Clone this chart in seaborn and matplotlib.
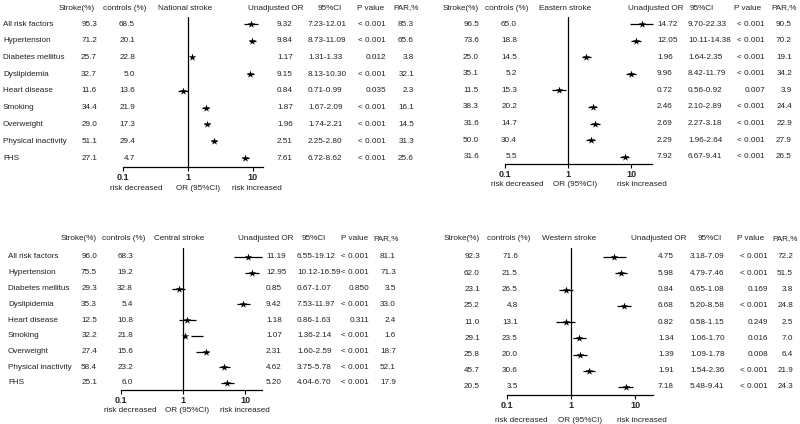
import numpy as np
import pandas as pd
import matplotlib
matplotlib.use('Agg')
import matplotlib.pyplot as plt
import matplotlib.transforms as mtransforms
import seaborn as sns

# risk factors (rows)
factors = ['All risk factors', 'Hypertension', 'Diabetes mellitus', 'Dyslipidemia',
           'Heart disease', 'Smoking', 'Overweight', 'Physical inactivity', 'FHS']

# National stroke
nat_stroke = ['95.3', '71.2', '25.7', '32.7', '11.6', '34.4', '29.0', '51.1', '27.1']
nat_ctrl = ['68.5', '20.1', '22.8', '5.0', '13.6', '21.9', '17.3', '29.4', '4.7']
nat_or = [9.32, 9.84, 1.17, 9.15, 0.84, 1.87, 1.96, 2.51, 7.61]
nat_lo = [7.23, 8.73, 1.31, 8.13, 0.71, 1.67, 1.74, 2.25, 6.72]
nat_hi = [12.01, 11.09, 1.33, 10.30, 0.99, 2.09, 2.21, 2.80, 8.62]
nat_p = ['< 0.001', '< 0.001', '0.012', '< 0.001', '0.035', '< 0.001', '< 0.001', '< 0.001', '< 0.001']
nat_par = ['85.3', '65.6', '3.8', '32.1', '2.3', '16.1', '14.5', '31.3', '25.6']

# Eastern stroke
eas_stroke = ['96.5', '73.6', '25.0', '35.1', '11.5', '38.3', '31.6', '50.0', '31.6']
eas_ctrl = ['65.0', '18.8', '14.5', '5.2', '15.3', '20.2', '14.7', '30.4', '5.5']
eas_or = [14.72, 12.05, 1.96, 9.96, 0.72, 2.46, 2.69, 2.29, 7.92]
eas_lo = [9.70, 10.11, 1.64, 8.42, 0.56, 2.10, 2.27, 1.96, 6.67]
eas_hi = [22.33, 14.38, 2.35, 11.79, 0.92, 2.89, 3.18, 2.64, 9.41]
eas_p = ['< 0.001', '< 0.001', '< 0.001', '< 0.001', '0.007', '< 0.001', '< 0.001', '< 0.001', '< 0.001']
eas_par = ['90.5', '70.2', '19.1', '34.2', '3.9', '24.4', '22.9', '27.9', '26.5']

# Central stroke
cen_stroke = ['96.0', '75.5', '29.3', '35.3', '12.5', '32.2', '27.4', '58.4', '25.1']
cen_ctrl = ['68.3', '19.2', '32.8', '5.4', '10.8', '21.8', '15.6', '23.2', '6.0']
cen_or = [11.19, 12.95, 0.85, 9.42, 1.18, 1.07, 2.31, 4.62, 5.20]
cen_lo = [6.55, 10.12, 0.67, 7.53, 0.86, 1.36, 1.60, 3.75, 4.04]
cen_hi = [19.12, 16.59, 1.07, 11.97, 1.63, 2.14, 2.59, 5.78, 6.70]
cen_p = ['< 0.001', '< 0.001', '0.850', '< 0.001', '0.311', '< 0.001', '< 0.001', '< 0.001', '< 0.001']
cen_par = ['81.1', '71.3', '3.5', '33.0', '2.4', '1.6', '18.7', '52.1', '17.9']

# Western stroke
wes_stroke = ['92.3', '62.0', '23.1', '25.2', '11.0', '29.1', '25.8', '45.7', '20.5']
wes_ctrl = ['71.6', '21.5', '26.5', '4.8', '13.1', '23.5', '20.0', '30.6', '3.5']
wes_or = [4.75, 5.98, 0.84, 6.68, 0.82, 1.34, 1.39, 1.91, 7.18]
wes_lo = [3.18, 4.79, 0.65, 5.20, 0.58, 1.06, 1.09, 1.54, 5.48]
wes_hi = [7.09, 7.46, 1.08, 8.58, 1.15, 1.70, 1.78, 2.36, 9.41]
wes_p = ['< 0.001', '< 0.001', '0.169', '< 0.001', '0.249', '0.016', '0.008', '< 0.001', '< 0.001']
wes_par = ['72.2', '51.5', '3.8', '24.8', '2.5', '7.0', '6.4', '21.9', '24.3']

sns.set_style('white')
plt.rcParams['font.family'] = ['Liberation Sans', 'DejaVu Sans']
FS = 5.9
TC = '#222222'
W, H = 800, 424

fig = plt.figure(figsize=(8, 4.24), dpi=100)


def fx(px):
    return px / W


def fy(py):
    return 1 - py / H


def draw_panel(title, stroke, ctrl, orv, lo, hi, pv, par, lay, labels=True):
    '''Draw one forest panel; lay holds pixel positions for the layout.'''
    l, r, t, b = lay['box']
    ax = fig.add_axes([fx(l), fy(b), fx(r - l), (b - t) / H])
    y0, dy = lay['rows']
    n = len(factors)
    rows = np.arange(n)
    ax.set_ylim((b - y0) / dy, (t - y0) / dy)
    ax.set_xscale('log')
    ax.set_xlim(0.1, lay['xmax'])

    ax.hlines(rows, lo, hi, color='black', lw=0.9, clip_on=False)
    df = pd.DataFrame({'or': orv, 'row': rows})
    sns.scatterplot(data=df, x='or', y='row', marker='*', s=32, color='black',
                    linewidth=0, ax=ax, legend=False, zorder=3, clip_on=False)
    ax.axvline(1, color='black', lw=0.9)

    for s in ['top', 'right', 'left']:
        ax.spines[s].set_visible(False)
    ax.spines['bottom'].set_color('black')
    ax.spines['bottom'].set_linewidth(0.9)
    ax.set_xticks([0.1, 1, 10])
    ax.set_xticklabels(['0.1', '1', '10'], fontweight='bold')
    ax.xaxis.set_minor_locator(matplotlib.ticker.NullLocator())
    ax.tick_params(axis='x', bottom=True, length=3, width=0.8, pad=1.5,
                   labelsize=6.5, color='black')
    ax.set_yticks([])
    ax.set_xlabel('')
    ax.set_ylabel('')

    tr = mtransforms.blended_transform_factory(fig.transFigure, ax.transData)
    c = lay['cols']
    hy = (lay['head_y'] - y0) / dy
    kw = dict(va='center', fontsize=FS, color=TC, transform=tr)
    # headers
    ax.text(fx(c['h_stroke']), hy, 'Stroke(%)', ha='center', **kw)
    ax.text(fx(c['h_ctrl']), hy, 'controls (%)', ha='center', **kw)
    ax.text(fx(c['h_title']), hy, title, ha='left', **kw)
    ax.text(fx(c['h_or']), hy, 'Unadjusted OR', ha='center', **kw)
    ax.text(fx(c['h_ci']), hy, '95%CI', ha='center', **kw)
    ax.text(fx(c['h_p']), hy, 'P value', ha='center', **kw)
    ax.text(fx(c['h_par']), hy, 'PAR,%', ha='center', **kw)

    for i in range(n):
        if labels:
            ax.text(fx(c['label']), i, factors[i], ha='left', **kw)
        ax.text(fx(c['stroke']), i, stroke[i], ha='right', **kw)
        ax.text(fx(c['ctrl']), i, ctrl[i], ha='right', **kw)
        ax.text(fx(c['or']), i, '%.2f' % orv[i], ha='left', **kw)
        ax.text(fx(c['ci']), i, '%.2f-%.2f' % (lo[i], hi[i]), ha='left', **kw)
        ax.text(fx(c['p']), i, pv[i], ha='right', **kw)
        ax.text(fx(c['par']), i, par[i], ha='right', **kw)

    by = lay['bottom_y']
    bx = lay['bottom_x']
    fkw = dict(ha='center', va='center', fontsize=FS, color=TC)
    fig.text(fx(bx[0]), fy(by), 'risk decreased', **fkw)
    fig.text(fx(bx[1]), fy(by), 'OR (95%CI)', **fkw)
    fig.text(fx(bx[2]), fy(by), 'risk increased', **fkw)
    return ax


lay_nat = {'box': (123, 263, 17, 167), 'rows': (24, 16.75), 'xmax': 14.3, 'head_y': 8,
           'cols': {'h_stroke': 77, 'h_ctrl': 125, 'h_title': 158, 'h_or': 276, 'h_ci': 330,
                    'h_p': 371, 'h_par': 406, 'label': 3, 'stroke': 97, 'ctrl': 135,
                    'or': 277, 'ci': 308, 'p': 386, 'par': 414},
           'bottom_y': 188, 'bottom_x': (136, 198, 257)}
lay_eas = {'box': (505, 652, 17, 164), 'rows': (24, 16.6), 'xmax': 21.5, 'head_y': 8,
           'cols': {'h_stroke': 461, 'h_ctrl': 507, 'h_title': 539, 'h_or': 656, 'h_ci': 702,
                    'h_p': 748, 'h_par': 784, 'label': 400, 'stroke': 479, 'ctrl': 517,
                    'or': 657, 'ci': 688, 'p': 765, 'par': 792},
           'bottom_y': 184, 'bottom_x': (517, 575, 642)}
lay_cen = {'box': (121, 262, 248, 390), 'rows': (257, 15.75), 'xmax': 18.8, 'head_y': 239,
           'cols': {'h_stroke': 79, 'h_ctrl': 124, 'h_title': 154, 'h_or': 266, 'h_ci': 314,
                    'h_p': 355, 'h_par': 386, 'label': 8, 'stroke': 97, 'ctrl': 133,
                    'or': 266, 'ci': 297, 'p': 369, 'par': 396},
           'bottom_y': 410, 'bottom_x': (130, 187, 245)}
lay_wes = {'box': (507, 653, 248, 395), 'rows': (257, 16.25), 'xmax': 19.0, 'head_y': 239,
           'cols': {'h_stroke': 462, 'h_ctrl': 509, 'h_title': 542, 'h_or': 659, 'h_ci': 710,
                    'h_p': 751, 'h_par': 785, 'label': 400, 'stroke': 480, 'ctrl': 518,
                    'or': 658, 'ci': 690, 'p': 768, 'par': 793},
           'bottom_y': 420, 'bottom_x': (521, 580, 642)}

draw_panel('National stroke', nat_stroke, nat_ctrl, nat_or, nat_lo, nat_hi, nat_p, nat_par, lay_nat)
draw_panel('Eastern stroke', eas_stroke, eas_ctrl, eas_or, eas_lo, eas_hi, eas_p, eas_par, lay_eas, labels=False)
draw_panel('Central stroke', cen_stroke, cen_ctrl, cen_or, cen_lo, cen_hi, cen_p, cen_par, lay_cen)
draw_panel('Western stroke', wes_stroke, wes_ctrl, wes_or, wes_lo, wes_hi, wes_p, wes_par, lay_wes, labels=False)

fig.savefig('out.png', dpi=100)
